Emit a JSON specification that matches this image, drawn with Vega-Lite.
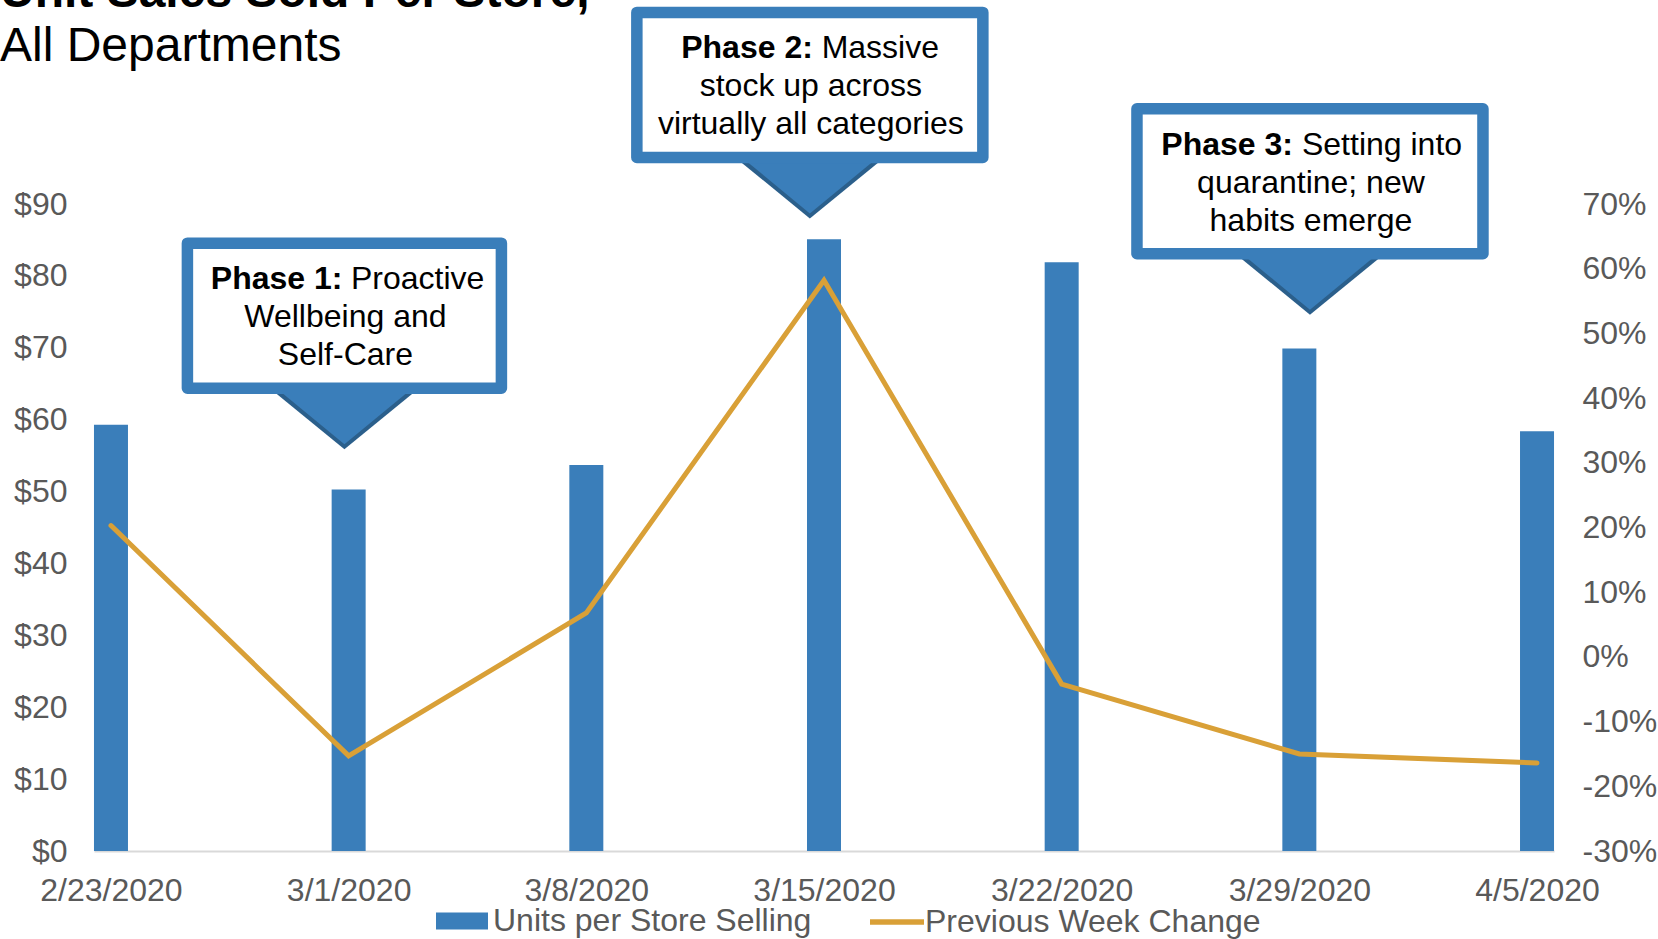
{
  "$schema": "https://vega.github.io/schema/vega-lite/v6.json",
  "autosize": "none",
  "width": 1460,
  "height": 647,
  "padding": {"left": 94, "top": 204, "right": 104, "bottom": 88},
  "background": "white",
  "config": {
    "font": "Liberation Sans",
    "view": {"stroke": null},
    "axis": {"labelFont": "Liberation Sans", "labelFontSize": 32, "labelColor": "#595959", "ticks": false, "grid": false, "domain": false, "title": null, "labelFlush": false, "labelOverlap": false},
    "legend": {"labelFont": "Liberation Sans", "labelFontSize": 32, "labelColor": "#595959", "padding": 0, "labelLimit": 600}
  },
  "title": {
    "text": "Unit Sales Sold Per Store,",
    "subtitle": "All Departments",
    "anchor": "start",
    "frame": "group",
    "dx": -94,
    "offset": -64,
    "font": "Liberation Sans",
    "fontSize": 48,
    "fontWeight": "bold",
    "color": "#000000",
    "subtitleFont": "Liberation Sans",
    "subtitleFontSize": 48,
    "subtitleFontWeight": "normal",
    "subtitleColor": "#000000",
    "subtitlePadding": 6
  },
  "datasets": {
    "weeks": [
      {"date": "2020-02-23", "units": 59.3, "change": 0.203},
      {"date": "2020-03-01", "units": 50.3, "change": -0.153},
      {"date": "2020-03-08", "units": 53.7, "change": 0.068},
      {"date": "2020-03-15", "units": 85.1, "change": 0.582},
      {"date": "2020-03-22", "units": 81.9, "change": -0.042},
      {"date": "2020-03-29", "units": 69.9, "change": -0.150},
      {"date": "2020-04-05", "units": 58.4, "change": -0.164}
    ],
    "callouts": [
      {"phase": "Phase 1:", "rest": "Proactive", "line2": "Wellbeing and", "line3": "Self-Care", "date": "2020-02-29T21:00:00Z", "value": 55.9},
      {"phase": "Phase 2:", "rest": "Massive", "line2": "stock up across", "line3": "virtually all categories", "date": "2020-03-14T14:00:00Z", "value": 88.0},
      {"phase": "Phase 3:", "rest": "Setting into", "line2": "quarantine; new", "line3": "habits emerge", "date": "2020-03-29T07:30:00Z", "value": 74.6}
    ]
  },
  "encoding": {
    "x": {
      "field": "date",
      "type": "temporal",
      "scale": {
        "type": "utc",
        "padding": 0,
        "domain": [
          {"year": 2020, "month": 2, "date": 22, "hours": 12, "utc": true},
          {"year": 2020, "month": 4, "date": 5, "hours": 12, "utc": true}
        ]
      },
      "axis": {
        "domain": true,
        "domainColor": "#D9D9D9",
        "domainWidth": 2,
        "labelPadding": 24,
        "labelExpr": "utcFormat(datum.value, '%-m/%-d/%Y')",
        "values": [
          {"year": 2020, "month": 2, "date": 23, "utc": true},
          {"year": 2020, "month": 3, "date": 1, "utc": true},
          {"year": 2020, "month": 3, "date": 8, "utc": true},
          {"year": 2020, "month": 3, "date": 15, "utc": true},
          {"year": 2020, "month": 3, "date": 22, "utc": true},
          {"year": 2020, "month": 3, "date": 29, "utc": true},
          {"year": 2020, "month": 4, "date": 5, "utc": true}
        ]
      }
    }
  },
  "layer": [
    {
      "data": {"name": "weeks"},
      "mark": {"type": "bar", "width": 34},
      "encoding": {
        "y": {"field": "units", "type": "quantitative", "scale": {"domain": [0, 90], "nice": false, "zero": true},
              "axis": {"orient": "left", "values": [0, 10, 20, 30, 40, 50, 60, 70, 80, 90], "format": "$.0f", "labelPadding": 27}},
        "fill": {"datum": "Units per Store Selling", "type": "nominal", "scale": {"range": ["#3A7EBA"]},
                 "legend": {"orient": "none", "legendX": 342, "legendY": 691, "title": null, "symbolType": "M-1,-0.33L1,-0.33L1,0.33L-1,0.33Z", "symbolSize": 2704, "symbolStrokeWidth": 0, "symbolOpacity": 1, "labelOffset": 5}}
      }
    },
    {
      "data": {"name": "weeks"},
      "mark": {"type": "line", "strokeWidth": 5, "strokeCap": "round"},
      "encoding": {
        "y": {"field": "change", "type": "quantitative", "scale": {"domain": [-0.3, 0.7], "nice": false, "zero": false},
              "axis": {"orient": "right", "values": [-0.3, -0.2, -0.1, 0, 0.1, 0.2, 0.3, 0.4, 0.5, 0.6, 0.7], "labelExpr": "(datum.value < 0 ? '-' : '') + format(abs(datum.value), '.0%')", "labelPadding": 28}},
        "stroke": {"datum": "Previous Week Change", "type": "nominal", "scale": {"range": ["#D9A037"]},
                   "legend": {"orient": "none", "legendX": 773, "legendY": 688, "title": null, "symbolType": "stroke", "symbolSize": 2916, "symbolStrokeWidth": 5.5, "labelOffset": -2}}
      }
    },
    {
      "data": {"name": "callouts"},
      "mark": {"type": "point", "shape": "M0,0L-71,-58L71,-58Z", "size": 4, "filled": true, "fill": "#2B5F8B", "strokeWidth": 0, "opacity": 1},
      "encoding": {
        "y": {"field": "value", "type": "quantitative", "scale": {"domain": [0, 90], "nice": false}, "axis": null}
      }
    },
    {
      "data": {"name": "callouts"},
      "mark": {"type": "point", "shape": "M0,-5L-68,-61L68,-61Z", "size": 4, "filled": true, "fill": "#3A7EBA", "strokeWidth": 0, "opacity": 1},
      "encoding": {
        "y": {"field": "value", "type": "quantitative", "scale": {"domain": [0, 90], "nice": false}, "axis": null}
      }
    },
    {
      "data": {"name": "callouts"},
      "mark": {"type": "point", "size": 4, "filled": true, "fill": "#FFFFFF", "stroke": "#3A7EBA", "strokeWidth": 11.5, "strokeJoin": "round", "opacity": 1},
      "encoding": {
        "y": {"field": "value", "type": "quantitative", "scale": {"domain": [0, 90], "nice": false}, "axis": null},
        "shape": {"field": "phase", "type": "nominal", "legend": null,
                  "scale": {"domain": ["Phase 1:", "Phase 2:", "Phase 3:"],
                            "range": ["M-157,-206L157,-206L157,-61L-157,-61Z", "M-173,-206L173,-206L173,-61L-173,-61Z", "M-173,-206L173,-206L173,-61L-173,-61Z"]}}
      }
    },
    {
      "data": {"name": "callouts"},
      "mark": {"type": "text", "font": "Liberation Sans", "fontSize": 32, "fontWeight": "bold", "color": "#000000", "align": "right", "baseline": "middle", "dy": -170,
               "dx": {"expr": "datum.phase === 'Phase 1:' ? -2 : datum.phase === 'Phase 2:' ? 3 : -17"}},
      "encoding": {
        "y": {"field": "value", "type": "quantitative", "scale": {"domain": [0, 90], "nice": false}, "axis": null},
        "text": {"field": "phase"}
      }
    },
    {
      "data": {"name": "callouts"},
      "mark": {"type": "text", "font": "Liberation Sans", "fontSize": 32, "color": "#000000", "align": "left", "baseline": "middle", "dy": -170,
               "dx": {"expr": "datum.phase === 'Phase 1:' ? 6.5 : datum.phase === 'Phase 2:' ? 11.8 : -8"}},
      "encoding": {
        "y": {"field": "value", "type": "quantitative", "scale": {"domain": [0, 90], "nice": false}, "axis": null},
        "text": {"field": "rest"}
      }
    },
    {
      "data": {"name": "callouts"},
      "mark": {"type": "text", "font": "Liberation Sans", "fontSize": 32, "color": "#000000", "align": "center", "baseline": "middle", "dy": -132, "dx": 1},
      "encoding": {
        "y": {"field": "value", "type": "quantitative", "scale": {"domain": [0, 90], "nice": false}, "axis": null},
        "text": {"field": "line2"}
      }
    },
    {
      "data": {"name": "callouts"},
      "mark": {"type": "text", "font": "Liberation Sans", "fontSize": 32, "color": "#000000", "align": "center", "baseline": "middle", "dy": -94, "dx": 1},
      "encoding": {
        "y": {"field": "value", "type": "quantitative", "scale": {"domain": [0, 90], "nice": false}, "axis": null},
        "text": {"field": "line3"}
      }
    }
  ],
  "resolve": {"scale": {"y": "independent"}}
}
